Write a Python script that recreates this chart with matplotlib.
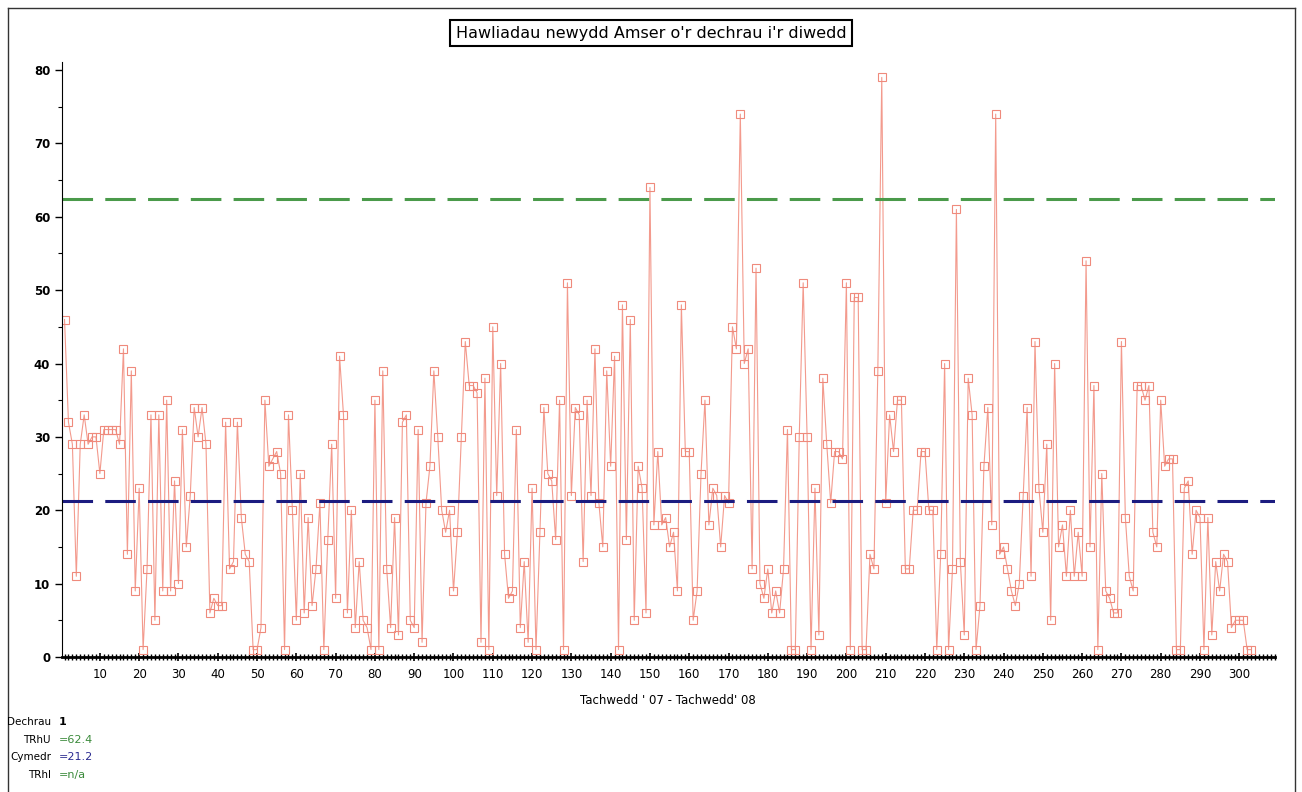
import matplotlib.pyplot as plt
from matplotlib.ticker import MultipleLocator
from matplotlib.lines import Line2D

# Gwerthoedd (hawliadau newydd)
hawliadau = [
    46, 32, 29, 11, 29, 33, 29, 30, 30, 25,
    31, 31, 31, 31, 29, 42, 14, 39, 9, 23,
    1, 12, 33, 5, 33, 9, 35, 9, 24, 10,
    31, 15, 22, 34, 30, 34, 29, 6, 8, 7,
    7, 32, 12, 13, 32, 19, 14, 13, 1, 1,
    4, 35, 26, 27, 28, 25, 1, 33, 20, 5,
    25, 6, 19, 7, 12, 21, 1, 16, 29, 8,
    41, 33, 6, 20, 4, 13, 5, 4, 1, 35,
    1, 39, 12, 4, 19, 3, 32, 33, 5, 4,
    31, 2, 21, 26, 39, 30, 20, 17, 20, 9,
    17, 30, 43, 37, 37, 36, 2, 38, 1, 45,
    22, 40, 14, 8, 9, 31, 4, 13, 2, 23,
    1, 17, 34, 25, 24, 16, 35, 1, 51, 22,
    34, 33, 13, 35, 22, 42, 21, 15, 39, 26,
    41, 1, 48, 16, 46, 5, 26, 23, 6, 64,
    18, 28, 18, 19, 15, 17, 9, 48, 28, 28,
    5, 9, 25, 35, 18, 23, 22, 15, 22, 21,
    45, 42, 74, 40, 42, 12, 53, 10, 8, 12,
    6, 9, 6, 12, 31, 1, 1, 30, 51, 30,
    1, 23, 3, 38, 29, 21, 28, 28, 27, 51,
    1, 49, 49, 1, 1, 14, 12, 39, 79, 21,
    33, 28, 35, 35, 12, 12, 20, 20, 28, 28,
    20, 20, 1, 14, 40, 1, 12, 61, 13, 3,
    38, 33, 1, 7, 26, 34, 18, 74, 14, 15,
    12, 9, 7, 10, 22, 34, 11, 43, 23, 17,
    29, 5, 40, 15, 18, 11, 20, 11, 17, 11,
    54, 15, 37, 1, 25, 9, 8, 6, 6, 43,
    19, 11, 9, 37, 37, 35, 37, 17, 15, 35,
    26, 27, 27, 1, 1, 23, 24, 14, 20, 19,
    1, 19, 3, 13, 9, 14, 13, 4, 5, 5,
    5, 1, 1,
]
rhif = list(range(1, len(hawliadau) + 1))

trhu = 62.4
cymedr = 21.2

fig = plt.figure(figsize=(13.02, 7.92), dpi=100)
ax = fig.add_axes([0.0476, 0.1705, 0.9314, 0.7512])

ax.plot(rhif, hawliadau, color='#f39a8d', linewidth=0.8, marker='s',
        markersize=5.5, markerfacecolor='none', markeredgecolor='#ef8a7c',
        markeredgewidth=0.8)

ax.axhline(trhu, color='#4a9a4a', linewidth=2.2, dashes=(10, 4))
ax.axhline(cymedr, color='#1c1c80', linewidth=2.2, dashes=(10, 4))

ax.set_xlim(0.35, 309)
ax.set_ylim(0, 81.1)

ax.xaxis.set_minor_locator(MultipleLocator(1))
ax.yaxis.set_major_locator(MultipleLocator(10))
ax.yaxis.set_minor_locator(MultipleLocator(5))
ax.set_xticks(range(10, 301, 10))
ax.tick_params(axis='x', which='major', length=6, width=1.2, direction='inout',
               labelsize=8.5, pad=5)
ax.tick_params(axis='x', which='minor', length=4, width=1.0, direction='inout')
ax.tick_params(axis='y', which='major', length=5, width=1, labelsize=8.5)
ax.tick_params(axis='y', which='minor', length=3, width=0.8)
for lab in ax.get_yticklabels():
    lab.set_fontweight('bold')

ax.spines['top'].set_visible(False)
ax.spines['right'].set_visible(False)
ax.spines['bottom'].set_linewidth(2)

ax.text(0.5, -0.062, "Tachwedd ' 07 - Tachwedd' 08", transform=ax.transAxes,
        ha='center', va='top', fontsize=8.5)

# Teitl mewn blwch
fig.text(0.5, 0.958, "Hawliadau newydd Amser o'r dechrau i'r diwedd",
         ha='center', va='center', fontsize=11.5,
         bbox=dict(boxstyle='square,pad=0.35', facecolor='white',
                   edgecolor='black', linewidth=1.5))

# Ffin y ffigur
fig.add_artist(Line2D([0.0065, 0.0065], [0, 0.99], color='#333333', linewidth=1))
fig.add_artist(Line2D([0.0065, 0.995], [0.99, 0.99], color='#333333', linewidth=1))
fig.add_artist(Line2D([0.995, 0.995], [0, 0.99], color='#333333', linewidth=1))

# Gwybodaeth ar y gwaelod
labels = ['Dechrau', 'TRhU', 'Cymedr', 'TRhI']
values = ['1', '=62.4', '=21.2', '=n/a']
colours = ['black', '#3a8a3a', '#2a2a90', '#3a8a3a']
ys = [722, 740, 757, 775]
for lab, val, col, y in zip(labels, values, colours, ys):
    fy = 1 - y / 792
    fig.text(51 / 1302, fy, lab, ha='right', va='center', fontsize=7.5)
    fig.text(59 / 1302, fy, val, ha='left', va='center', fontsize=8,
             color=col, fontweight='bold' if val == '1' else 'normal')

fig.savefig('out.png', dpi=100)
